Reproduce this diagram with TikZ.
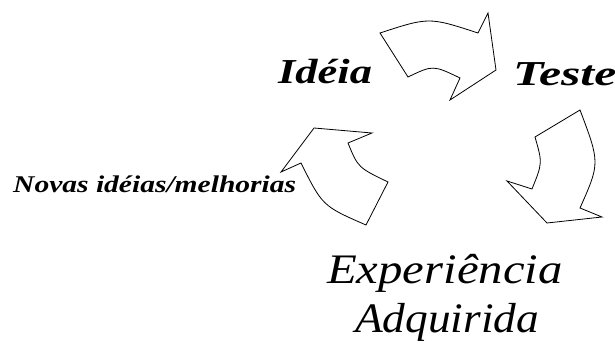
\documentclass[tikz,border=0pt]{standalone}
\usepackage{fontspec}
\setmainfont{Liberation Serif}
\begin{document}
\begin{tikzpicture}[x=1pt,y=-1pt,
  cyc/.style={draw=black,line width=0.8pt,line join=miter,fill=white},
  lbl/.style={inner sep=0pt,anchor=base west,font=\itshape\bfseries}]
\useasboundingbox (0,0) rectangle (615,358);
% top arrow
\draw[cyc] (380,33) .. controls (429,17) .. (478,33) -- (488,13) -- (496,70)
  -- (450,100) -- (460,78) .. controls (433,65) .. (408,77) -- cycle;
% right arrow
\draw[cyc] (535,137) -- (580,110) .. controls (600,163) .. (580,208) -- (602,217)
  -- (547,223) -- (507,181) -- (532,189) .. controls (542.5,163) .. (535,137) -- cycle;
% left arrow
\draw[cyc] (314,128) -- (372,133) -- (348,143) .. controls (358,167.5) .. (388,182)
  -- (366,225) .. controls (322.5,206) .. (301,163) -- (281,172) -- cycle;
\node[lbl] (idea) at (278,84) {\fontsize{35}{35}\selectfont\scalebox{1.27}[1]{Idéia}};
\node[lbl] (teste) at (513,86) {\fontsize{35}{35}\selectfont\scalebox{1.42}[1]{Teste}};
\node[lbl] (novas) at (13,193) {\fontsize{24}{24}\selectfont\scalebox{1.23}[1]{Novas idéias/melhorias}};
\node[lbl,font=\itshape] (exp) at (327,283) {\fontsize{42}{42}\selectfont\scalebox{1.16}[1]{Experiência}};
\node[lbl,font=\itshape] (adq) at (355,332) {\fontsize{42}{42}\selectfont\scalebox{1.08}[1]{Adquirida}};
\end{tikzpicture}
\end{document}
